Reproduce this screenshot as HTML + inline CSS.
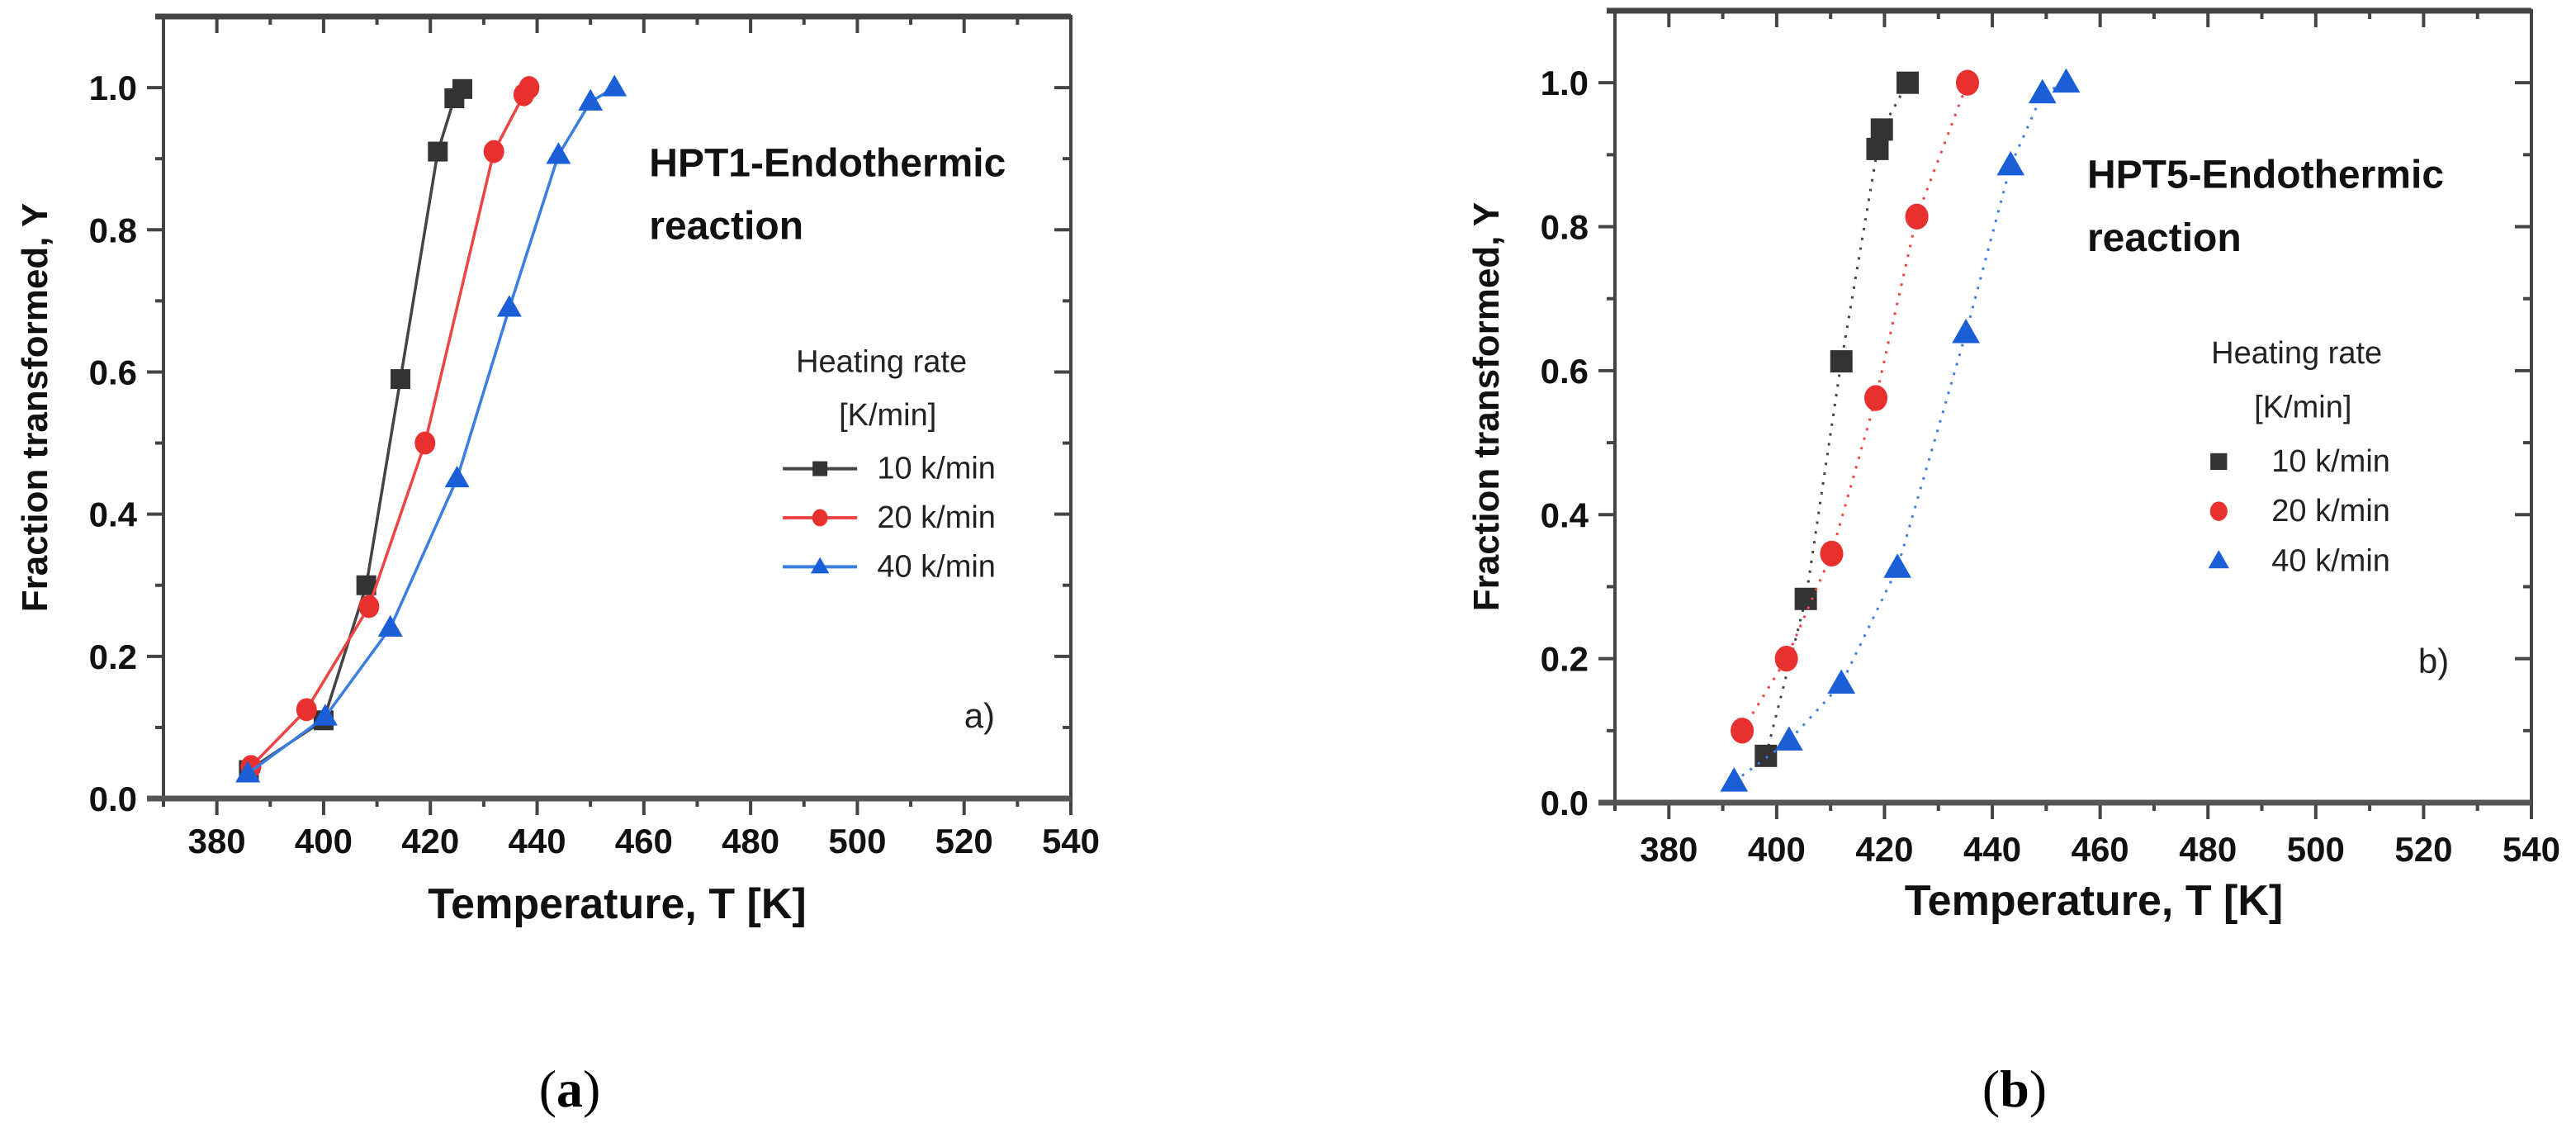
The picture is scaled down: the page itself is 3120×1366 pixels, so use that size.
<!DOCTYPE html>
<html><head><meta charset="utf-8"><style>
html,body{margin:0;padding:0;background:#fff;}
svg{display:block;}
</style></head><body>
<svg id="fig" width="3120" height="1366" viewBox="0 0 3120 1366" xmlns="http://www.w3.org/2000/svg" font-family="Liberation Sans, sans-serif">
<rect x="0" y="0" width="3120" height="1366" fill="#fff"/>
<g id="panelA"></g>
<g id="panelB"></g>
<text x="690" y="1340" text-anchor="middle" font-family="Liberation Serif, serif" font-size="64" fill="#000">(<tspan font-weight="bold">a</tspan>)</text>
<text x="2440" y="1340" text-anchor="middle" font-family="Liberation Serif, serif" font-size="64" fill="#000">(<tspan font-weight="bold">b</tspan>)</text>
</svg>
<script>
const xTicks = [380,400,420,440,460,480,500,520,540];
const yTicks = [0.0,0.2,0.4,0.6,0.8,1.0];
const seriesNames = ["10 k/min","20 k/min","40 k/min"];
// Panel a (HPT1)
const a10T = [386,400,408,414.4,421.4,424.5,426];
const a10Y = [0.04,0.11,0.30,0.59,0.91,0.985,0.998];
const a20T = [386.4,396.8,408.5,419,431.9,437.5,438.5];
const a20Y = [0.045,0.125,0.27,0.50,0.91,0.99,1.0];
const a40T = [385.8,400.3,412.5,425,434.8,444,450,454.5];
const a40Y = [0.035,0.115,0.24,0.45,0.69,0.905,0.98,1.0];
// Panel b (HPT5)
const b10T = [398,405.4,412,418.7,419.5,424.3];
const b10Y = [0.065,0.283,0.613,0.908,0.935,1.0];
const b20T = [393.6,401.8,410.2,418.4,426,435.4];
const b20Y = [0.10,0.20,0.346,0.562,0.814,1.0];
const b40T = [392.1,402.3,412,422.4,435.1,443.4,449.3,453.7];
const b40Y = [0.029,0.086,0.165,0.326,0.652,0.885,0.985,1.0];

const NS = "http://www.w3.org/2000/svg";
const COLORS = ["#333333","#e8302e","#1a5fd8"];
const LINECOL = ["#444444","#ee4444","#3a7ee0"];

function mk(parent, tag, attrs){
  const e = document.createElementNS(NS, tag);
  for (const k in attrs) e.setAttribute(k, attrs[k]);
  parent.appendChild(e);
  return e;
}

function drawPanel(g, cfg){
  const xs = T => cfg.x0 + (T - cfg.tmin) * (cfg.x1 - cfg.x0) / (cfg.tmax - cfg.tmin);
  const ys = Y => cfg.yb - Y * (cfg.yb - cfg.yt) / 1.1;
  const L = cfg.x0, R = cfg.x1, T = cfg.yt, B = cfg.yb;
  for (let v = cfg.tmin; v <= cfg.tmax; v += 10){
    const major = (v % 20 === 0);
    const len = major ? 20 : 10;
    const x = xs(v);
    const t1 = mk(g, "line", {x1:x, y1:B, x2:x, y2:B+len, stroke:"#444", "stroke-width":4});
    
    
    const t2 = mk(g, "line", {x1:x, y1:T, x2:x, y2:T+len, stroke:"#444", "stroke-width":4});
    
    
  }
  for (let i = 0; i <= 10; i++){
    const v = i / 10;
    const major = (i % 2 === 0);
    const len = major ? 20 : 10;
    const y = ys(v);
    const t1 = mk(g, "line", {x1:L-len, y1:y, x2:L, y2:y, stroke:"#444", "stroke-width":4});
    
    
    const t2 = mk(g, "line", {x1:R-len, y1:y, x2:R, y2:y, stroke:"#444", "stroke-width":4});
    
    
  }
  const fr = mk(g, "rect", {x:L, y:T, width:R-L, height:B-T, fill:"none", stroke:"#444", "stroke-width":4});
  
  
  const top = mk(g, "line", {x1:L-10, y1:T, x2:R, y2:T, stroke:"#444", "stroke-width":7});
  
  
  const bot = mk(g, "line", {x1:L-20, y1:B, x2:R, y2:B, stroke:"#555", "stroke-width":7});
  
  
  xTicks.forEach(v => {
    const t = mk(g, "text", {x:xs(v), y:B+cfg.tlOff, "text-anchor":"middle", "font-size":42, "font-weight":"bold", fill:"#111"});
    t.textContent = String(v);
    
    
  });
  yTicks.forEach(v => {
    const t = mk(g, "text", {x:L-32, y:ys(v)+15, "text-anchor":"end", "font-size":42, "font-weight":"bold", fill:"#111"});
    t.textContent = v.toFixed(1);
    
    
  });
  const xt = mk(g, "text", {x:(L+R)/2 + cfg.xtOff, y:cfg.xtY, "text-anchor":"middle", "font-size":52, "font-weight":"bold", fill:"#111"});
  xt.textContent = "Temperature, T [K]";
  
  
  const yc = (T+B)/2;
  const yt = mk(g, "text", {x:L-156, y:yc, "text-anchor":"middle", "font-size":44, "font-weight":"bold", fill:"#111", transform:"rotate(-90 "+(L-156)+" "+yc+")", dy:15});
  yt.textContent = "Fraction transformed, Y";
  
  
  cfg.series.forEach((s, i) => {
    const sg = mk(g, "g", {});
    
    
    const pts = s.T.map((t, j) => xs(t) + "," + ys(s.Y[j])).join(" ");
    const pl = mk(sg, "polyline", {points:pts, fill:"none", stroke:LINECOL[i], "stroke-width": cfg.dotted ? 3 : 3.5, "stroke-dasharray": cfg.dotted ? "3 9" : "none"});
    
    
    s.T.forEach((t, j) => {
      const m = marker(sg, i, xs(t), ys(s.Y[j]), cfg.ms);
      
      
    });
  });
  const tx = xs(cfg.titleT);
  const t1 = mk(g, "text", {x:tx, y:ys(cfg.titleY), "font-size":48, "font-weight":"bold", fill:"#111"});
  t1.textContent = cfg.title;
  
  
  const t2 = mk(g, "text", {x:tx, y:ys(cfg.titleY - 0.088), "font-size":48, "font-weight":"bold", fill:"#111"});
  t2.textContent = "reaction";
  
  
  const lg = mk(g, "g", {});
  
  
  const h1 = mk(lg, "text", {x:xs(cfg.legT), y:ys(cfg.legY), "font-size":38, fill:"#222"});
  h1.textContent = "Heating rate";
  
  
  const h2 = mk(lg, "text", {x:xs(cfg.legT)+52, y:ys(cfg.legY-0.075), "font-size":38, fill:"#222"});
  h2.textContent = "[K/min]";
  
  
  seriesNames.forEach((nm, i) => {
    const yy = ys(cfg.legY - 0.15 - i * 0.069);
    const eg = mk(lg, "g", {});
    
    
    const cx = xs(cfg.legMarkT);
    if (!cfg.dotted){
      const ln = mk(eg, "line", {x1:cx-45, y1:yy-12, x2:cx+45, y2:yy-12, stroke:LINECOL[i], "stroke-width":4});
      
      
    }
    const m = marker(eg, i, cx, yy-12, cfg.ms*0.75);
    
    
    const tt = mk(eg, "text", {x:xs(cfg.legTextT), y:yy, "font-size":38, fill:"#222"});
    tt.textContent = nm;
    
    
  });
  const pl = mk(g, "text", {x:xs(cfg.panelT), y:ys(cfg.panelY), "font-size":42, fill:"#222"});
  pl.textContent = cfg.panel;
  
  
}

function marker(parent, i, x, y, s){
  let e;
  if (i === 0){
    e = mk(parent, "rect", {x:x-s/2, y:y-s/2, width:s, height:s, fill:COLORS[0]});
  } else if (i === 1){
    e = mk(parent, "ellipse", {cx:x, cy:y, rx:s*0.52, ry:s*0.58, fill:COLORS[1]});
  } else {
    const h = s*1.05, w = s*1.25;
    e = mk(parent, "polygon", {points:(x)+","+(y-h*0.62)+" "+(x-w/2)+","+(y+h*0.42)+" "+(x+w/2)+","+(y+h*0.42), fill:COLORS[2]});
  }
  return e;
}

drawPanel(document.getElementById("panelA"), {
  x0:198, x1:1297, tmin:370, tmax:540, yt:20, yb:967,
  series:[{T:a10T,Y:a10Y},{T:a20T,Y:a20Y},{T:a40T,Y:a40Y}],
  dotted:false, ms:24, xtOff:0, xtY:1112, tlOff:66,
  title:"HPT1-Endothermic", titleT:461, titleY:0.875,
  legT:488.5, legY:0.60, legMarkT:493, legTextT:503.7,
  panel:"a)", panelT:520, panelY:0.10
});
drawPanel(document.getElementById("panelB"), {
  x0:1956, x1:3066, tmin:370, tmax:540, yt:13, yb:972,
  series:[{T:b10T,Y:b10Y},{T:b20T,Y:b20Y},{T:b40T,Y:b40Y}],
  dotted:true, ms:27, xtOff:25, xtY:1108, tlOff:71,
  title:"HPT5-Endothermic", titleT:457.6, titleY:0.854,
  legT:480.6, legY:0.61, legMarkT:482, legTextT:491.8,
  panel:"b)", panelT:519, panelY:0.18
});
</script>
</body></html>
